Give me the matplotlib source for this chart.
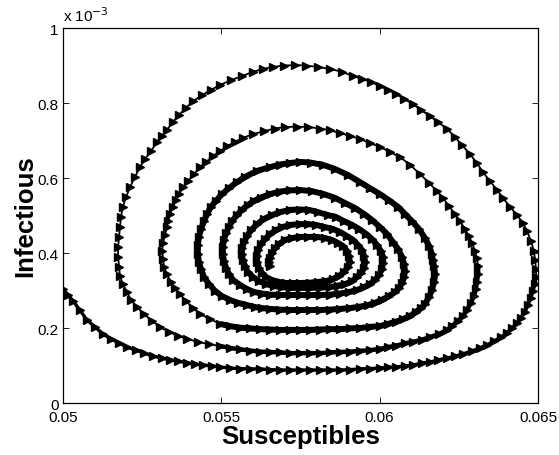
import numpy as np
import matplotlib
matplotlib.use('Agg')
import matplotlib.pyplot as plt

# S-I trajectory, one list pair per turn of the spiral
# (infectious values are in units of 1e-3)
s_turn1 = [
    0.05000, 0.05016, 0.05032, 0.05053, 0.05076, 0.05101, 0.05126, 0.05152, 0.05177, 0.05202,
    0.05231, 0.05256, 0.05284, 0.05313, 0.05338, 0.05363, 0.05392, 0.05417, 0.05442, 0.05471,
    0.05496, 0.05527, 0.05559, 0.05591, 0.05622, 0.05654, 0.05685, 0.05717, 0.05748, 0.05780,
    0.05812, 0.05843, 0.05875, 0.05906, 0.05938, 0.05969, 0.06001, 0.06026, 0.06052, 0.06080,
    0.06105, 0.06134, 0.06159, 0.06184, 0.06213, 0.06238, 0.06263, 0.06292, 0.06317, 0.06339,
    0.06361, 0.06383, 0.06402, 0.06418, 0.06434, 0.06446, 0.06459, 0.06468, 0.06478, 0.06484,
    0.06491, 0.06494, 0.06494, 0.06491, 0.06487, 0.06478, 0.06465, 0.06453, 0.06434, 0.06412,
    0.06389, 0.06371, 0.06348, 0.06326, 0.06307, 0.06285, 0.06260, 0.06238, 0.06213, 0.06184,
    0.06159, 0.06131, 0.06105, 0.06077, 0.06052, 0.06026, 0.06001, 0.05973, 0.05944, 0.05916,
    0.05881, 0.05843, 0.05805, 0.05767, 0.05733, 0.05698, 0.05663, 0.05632, 0.05600, 0.05565,
    0.05531, 0.05496, 0.05467, 0.05439, 0.05411, 0.05388, 0.05366, 0.05347, 0.05328, 0.05313,
    0.05297, 0.05278, 0.05259, 0.05243, 0.05227, 0.05212, 0.05199, 0.05189, 0.05183, 0.05180,
    0.05177, 0.05174, 0.05174, 0.05177, 0.05180, 0.05189, 0.05202, 0.05215, 0.05234, 0.05256,
    0.05281, 0.05306, 0.05335, 0.05363, 0.05392, 0.05426, 0.05461, 0.05496,
]
i_turn1 = [
    0.304, 0.288, 0.272, 0.248, 0.221, 0.203, 0.184, 0.171, 0.160, 0.149,
    0.141, 0.133, 0.125, 0.120, 0.115, 0.112, 0.107, 0.104, 0.101, 0.099,
    0.096, 0.093, 0.092, 0.091, 0.091, 0.089, 0.088, 0.088, 0.088, 0.088,
    0.088, 0.088, 0.088, 0.089, 0.091, 0.092, 0.093, 0.095, 0.096, 0.099,
    0.101, 0.107, 0.109, 0.115, 0.120, 0.125, 0.131, 0.139, 0.147, 0.155,
    0.165, 0.176, 0.187, 0.200, 0.213, 0.227, 0.243, 0.261, 0.280, 0.299,
    0.317, 0.336, 0.357, 0.381, 0.405, 0.432, 0.459, 0.480, 0.501, 0.523,
    0.547, 0.568, 0.592, 0.616, 0.640, 0.664, 0.688, 0.709, 0.731, 0.749,
    0.765, 0.781, 0.797, 0.811, 0.824, 0.835, 0.845, 0.856, 0.864, 0.872,
    0.883, 0.891, 0.896, 0.900, 0.901, 0.900, 0.896, 0.891, 0.883, 0.872,
    0.861, 0.848, 0.835, 0.821, 0.805, 0.787, 0.768, 0.749, 0.728, 0.712,
    0.696, 0.672, 0.651, 0.629, 0.603, 0.576, 0.549, 0.523, 0.496, 0.469,
    0.443, 0.416, 0.389, 0.363, 0.339, 0.317, 0.296, 0.275, 0.256, 0.237,
    0.219, 0.203, 0.189, 0.179, 0.171, 0.163, 0.157, 0.152,
]

s_turn2 = [
    0.05527, 0.05559, 0.05591, 0.05622, 0.05654, 0.05685, 0.05717, 0.05748, 0.05780, 0.05812,
    0.05843, 0.05875, 0.05906, 0.05938, 0.05969, 0.06001, 0.06026, 0.06052, 0.06080, 0.06105,
    0.06134, 0.06159, 0.06187, 0.06213, 0.06228, 0.06247, 0.06263, 0.06276, 0.06288, 0.06298,
    0.06304, 0.06307, 0.06311, 0.06311, 0.06307, 0.06301, 0.06292, 0.06282, 0.06269, 0.06254,
    0.06238, 0.06219, 0.06200, 0.06181, 0.06156, 0.06127, 0.06096, 0.06064, 0.06033, 0.06001,
    0.05969, 0.05938, 0.05906, 0.05875, 0.05843, 0.05812, 0.05774, 0.05739, 0.05701, 0.05669,
    0.05635, 0.05600, 0.05568, 0.05543, 0.05518, 0.05496, 0.05474, 0.05452, 0.05433, 0.05414,
    0.05395, 0.05379, 0.05366, 0.05357, 0.05347, 0.05338, 0.05332, 0.05328, 0.05322, 0.05316,
    0.05313, 0.05316, 0.05319, 0.05328, 0.05341, 0.05354, 0.05369, 0.05388, 0.05411, 0.05433,
    0.05464, 0.05496,
]
i_turn2 = [
    0.147, 0.143, 0.140, 0.137, 0.136, 0.135, 0.133, 0.133, 0.133, 0.133,
    0.135, 0.136, 0.137, 0.139, 0.141, 0.144, 0.149, 0.153, 0.159, 0.163,
    0.169, 0.176, 0.184, 0.195, 0.205, 0.219, 0.232, 0.248, 0.267, 0.285,
    0.304, 0.323, 0.344, 0.365, 0.387, 0.405, 0.427, 0.445, 0.464, 0.485,
    0.504, 0.525, 0.547, 0.565, 0.587, 0.611, 0.635, 0.656, 0.669, 0.683,
    0.693, 0.704, 0.712, 0.720, 0.727, 0.732, 0.736, 0.737, 0.736, 0.732,
    0.725, 0.717, 0.707, 0.696, 0.685, 0.672, 0.659, 0.643, 0.629, 0.611,
    0.592, 0.576, 0.557, 0.541, 0.523, 0.504, 0.485, 0.469, 0.448, 0.427,
    0.405, 0.384, 0.363, 0.344, 0.323, 0.307, 0.291, 0.272, 0.253, 0.237,
    0.224, 0.211,
]

s_turn3 = [
    0.05527, 0.05559, 0.05591, 0.05622, 0.05654, 0.05685, 0.05717, 0.05748, 0.05780, 0.05812,
    0.05843, 0.05875, 0.05906, 0.05938, 0.05969, 0.06001, 0.06026, 0.06052, 0.06074, 0.06096,
    0.06115, 0.06131, 0.06143, 0.06156, 0.06165, 0.06172, 0.06175, 0.06172, 0.06168, 0.06165,
    0.06156, 0.06143, 0.06124, 0.06102, 0.06080, 0.06058, 0.06029, 0.06001, 0.05969, 0.05938,
    0.05900, 0.05859, 0.05821, 0.05783, 0.05748, 0.05717, 0.05685, 0.05654, 0.05613, 0.05575,
    0.05549, 0.05524, 0.05502, 0.05483, 0.05467, 0.05455, 0.05445, 0.05436, 0.05429, 0.05426,
    0.05426, 0.05429, 0.05436, 0.05445, 0.05461, 0.05480, 0.05502, 0.05527, 0.05553, 0.05581,
    0.05606, 0.05628,
]
i_turn3 = [
    0.205, 0.201, 0.199, 0.197, 0.196, 0.195, 0.195, 0.195, 0.195, 0.196,
    0.197, 0.197, 0.199, 0.200, 0.203, 0.205, 0.211, 0.217, 0.224, 0.232,
    0.243, 0.253, 0.264, 0.283, 0.301, 0.323, 0.344, 0.365, 0.381, 0.397,
    0.419, 0.440, 0.464, 0.485, 0.504, 0.523, 0.541, 0.557, 0.573, 0.589,
    0.608, 0.624, 0.635, 0.641, 0.643, 0.640, 0.636, 0.629, 0.619, 0.603,
    0.589, 0.573, 0.557, 0.539, 0.523, 0.504, 0.485, 0.464, 0.443, 0.421,
    0.397, 0.376, 0.357, 0.336, 0.317, 0.299, 0.285, 0.275, 0.267, 0.261,
    0.256, 0.253,
]

s_turn4 = [
    0.05654, 0.05685, 0.05717, 0.05748, 0.05780, 0.05812, 0.05843, 0.05875, 0.05906, 0.05938,
    0.05963, 0.05985, 0.06007, 0.06029, 0.06048, 0.06061, 0.06071, 0.06077, 0.06080, 0.06077,
    0.06071, 0.06058, 0.06042, 0.06023, 0.06001, 0.05976, 0.05951, 0.05922, 0.05891, 0.05859,
    0.05824, 0.05786, 0.05748, 0.05717, 0.05685, 0.05654, 0.05625, 0.05603, 0.05584, 0.05565,
    0.05549, 0.05534, 0.05524, 0.05515, 0.05508, 0.05505, 0.05505, 0.05508, 0.05515, 0.05524,
    0.05537, 0.05559, 0.05581, 0.05603, 0.05628,
]
i_turn4 = [
    0.251, 0.249, 0.248, 0.248, 0.248, 0.248, 0.249, 0.251, 0.253, 0.257,
    0.261, 0.267, 0.275, 0.285, 0.296, 0.307, 0.320, 0.336, 0.352, 0.371,
    0.389, 0.411, 0.429, 0.451, 0.469, 0.488, 0.504, 0.520, 0.533, 0.547,
    0.557, 0.565, 0.568, 0.567, 0.564, 0.557, 0.548, 0.539, 0.528, 0.515,
    0.501, 0.485, 0.469, 0.453, 0.435, 0.416, 0.397, 0.379, 0.360, 0.344,
    0.328, 0.315, 0.304, 0.296, 0.292,
]

s_turn5 = [
    0.05654, 0.05685, 0.05717, 0.05748, 0.05780, 0.05812, 0.05843, 0.05875, 0.05903, 0.05928,
    0.05951, 0.05969, 0.05985, 0.05998, 0.06007, 0.06011, 0.06011, 0.06004, 0.05992, 0.05976,
    0.05957, 0.05935, 0.05913, 0.05887, 0.05862, 0.05837, 0.05805, 0.05777, 0.05748, 0.05717,
    0.05685, 0.05660, 0.05635, 0.05613, 0.05594, 0.05581, 0.05572, 0.05565, 0.05565, 0.05568,
    0.05575, 0.05584, 0.05600, 0.05619, 0.05641, 0.05666, 0.05692,
]
i_turn5 = [
    0.289, 0.288, 0.288, 0.288, 0.288, 0.288, 0.289, 0.292, 0.296, 0.301,
    0.309, 0.317, 0.328, 0.341, 0.357, 0.373, 0.389, 0.405, 0.421, 0.437,
    0.451, 0.464, 0.475, 0.485, 0.496, 0.501, 0.509, 0.515, 0.516, 0.515,
    0.509, 0.501, 0.491, 0.477, 0.461, 0.445, 0.429, 0.413, 0.397, 0.381,
    0.365, 0.349, 0.336, 0.325, 0.317, 0.312, 0.309,
]

s_turn6 = [
    0.05717, 0.05748, 0.05780, 0.05812, 0.05843, 0.05868, 0.05891, 0.05913, 0.05928, 0.05941,
    0.05951, 0.05954, 0.05951, 0.05944, 0.05932, 0.05916, 0.05897, 0.05875, 0.05853, 0.05827,
    0.05799, 0.05774, 0.05748, 0.05717, 0.05692, 0.05673, 0.05654, 0.05638, 0.05625, 0.05616,
    0.05613, 0.05613, 0.05619, 0.05628, 0.05641, 0.05660, 0.05682, 0.05704,
]
i_turn6 = [
    0.307, 0.307, 0.307, 0.308, 0.309, 0.313, 0.317, 0.325, 0.336, 0.347,
    0.360, 0.376, 0.392, 0.408, 0.421, 0.435, 0.445, 0.456, 0.464, 0.469,
    0.475, 0.477, 0.477, 0.475, 0.469, 0.461, 0.451, 0.437, 0.424, 0.408,
    0.392, 0.376, 0.360, 0.347, 0.336, 0.328, 0.323, 0.320,
]

s_turn7 = [
    0.05726, 0.05748, 0.05780, 0.05805, 0.05831, 0.05853, 0.05872, 0.05887, 0.05900, 0.05906,
    0.05903, 0.05897, 0.05884, 0.05868, 0.05849, 0.05827, 0.05802, 0.05774, 0.05748, 0.05723,
    0.05701, 0.05682, 0.05669, 0.05660, 0.05654, 0.05651, 0.05654,
]
i_turn7 = [
    0.320, 0.320, 0.321, 0.323, 0.325, 0.331, 0.339, 0.349, 0.363, 0.376,
    0.392, 0.405, 0.419, 0.427, 0.435, 0.440, 0.443, 0.443, 0.443, 0.440,
    0.435, 0.424, 0.413, 0.400, 0.387, 0.376, 0.365,
]

X_TICKS = [0.05, 0.055, 0.06, 0.065]
X_TICKLABELS = ['0.05', '0.055', '0.06', '0.065']
Y_TICKS = [0, 0.2, 0.4, 0.6, 0.8, 1]
Y_TICKLABELS = ['0', '0.2', '0.4', '0.6', '0.8', '1']

s_all = s_turn1 + s_turn2 + s_turn3 + s_turn4 + s_turn5 + s_turn6 + s_turn7
i_all = i_turn1 + i_turn2 + i_turn3 + i_turn4 + i_turn5 + i_turn6 + i_turn7
s_inner = s_turn2[-1:] + s_turn3 + s_turn4 + s_turn5 + s_turn6 + s_turn7
i_inner = i_turn2[-1:] + i_turn3 + i_turn4 + i_turn5 + i_turn6 + i_turn7

plt.rcParams['font.family'] = ['Liberation Sans', 'DejaVu Sans']

fig = plt.figure(figsize=(5.59, 4.56), dpi=100)
ax = fig.add_axes([0.1127, 0.114, 0.8497, 0.8224])

# markers pile up along the slow parts of the orbit -> heavier stroke there
ax.plot(s_turn1[:62], i_turn1[:62], '-', color='k', linewidth=2.4)
ax.plot(s_turn1[-1:] + s_turn2[:34], i_turn1[-1:] + i_turn2[:34], '-', color='k', linewidth=3.2)
ax.plot(s_inner, i_inner, '-', color='k', linewidth=4.3, solid_capstyle='butt')
ax.plot(s_all, i_all, '->', color='k', linewidth=1.3,
        markersize=5.5, markerfacecolor='k', markeredgecolor='k')

ax.set_xlim(0.05, 0.065)
ax.set_ylim(0, 1)
ax.set_xticks(X_TICKS)
ax.set_xticklabels(X_TICKLABELS)
ax.set_yticks(Y_TICKS)
ax.set_yticklabels(Y_TICKLABELS)
ax.tick_params(direction='in', top=True, right=True, length=4, width=0.6,
               labelsize=11)
ax.tick_params(axis='x', pad=5)
ax.tick_params(axis='y', pad=3)
for sp in ax.spines.values():
    sp.set_linewidth(0.9)

ax.text(0.0, 1.012, r'x 10$^{-3}$', transform=ax.transAxes, fontsize=11,
        ha='left', va='bottom')
ax.set_xlabel('Susceptibles', fontsize=18.5, fontweight='bold', labelpad=0)
ax.set_ylabel('Infectious', fontsize=18.5, fontweight='bold', labelpad=0)

fig.savefig('out.png', dpi=100)
